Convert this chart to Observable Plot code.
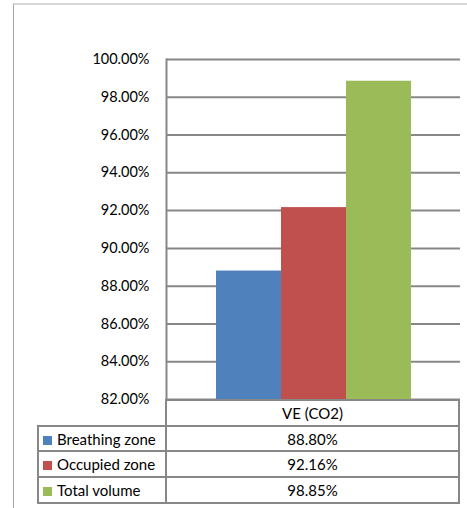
<!DOCTYPE html>
<html><head><meta charset="utf-8">
<script src="https://cdn.jsdelivr.net/npm/d3@7"></script>
<script src="https://cdn.jsdelivr.net/npm/@observablehq/plot@0.6"></script>
<style>
html,body{margin:0;padding:0;background:#fff;}
#wrap{position:relative;width:467px;height:508px;overflow:hidden;font-family:Lato,"Open Sans",sans-serif;color:#000;}
#frame{position:absolute;left:13px;top:3px;right:-5px;bottom:-5px;border-left:1px solid #a6a6a6;border-top:2px solid #d9d9d9;}
#chart{position:absolute;left:0;top:0;}
#tbl{position:absolute;left:37px;top:399px;border-collapse:collapse;table-layout:fixed;width:423px;font-size:15px;}
#tbl td{border:2px solid #878787;height:23.7px;padding:0;line-height:16px;white-space:nowrap;}
#tbl td.v{text-align:center;}
#tbl td.blank{border-top:none;border-left:none;}
.key{display:inline-block;width:9px;height:9px;margin:0 5px 0 4px;vertical-align:0px;}
</style>
</head><body>
<div id="wrap"><div id="frame"></div><div id="chart"></div><table id="tbl"></table></div>
<script>
const category = "VE (CO2)";
const series = ["Breathing zone", "Occupied zone", "Total volume"];
const values = [88.80, 92.16, 98.85];
const yTicks = [82, 84, 86, 88, 90, 92, 94, 96, 98, 100];
const palette = ["#4F81BD", "#C0504D", "#9BBB59"];

const data = series.map((s, i) => ({series: s, value: values[i], category}));
const fmt = d => d.toFixed(2) + "%";
const grid = "#878787";

const chart = Plot.plot({
  width: 467, height: 410,
  marginTop: 59, marginBottom: 11, marginLeft: 166, marginRight: 7,
  style: {background: "transparent", fontFamily: "Lato, 'Open Sans', sans-serif", fontSize: "14.5px", color: "#000"},
  x: {domain: series, paddingInner: 0, paddingOuter: 0.7615, align: 0.5, axis: null},
  y: {domain: [yTicks[0], yTicks[yTicks.length - 1]], label: null},
  color: {domain: series, range: palette},
  marks: [
    Plot.gridY(yTicks, {stroke: grid, strokeOpacity: 1, strokeWidth: 2}),
    Plot.frame({anchor: "left", stroke: grid, strokeWidth: 2}),
    Plot.barY(data, {x: "series", y: "value", fill: "series", clip: true}),
    Plot.axisY(yTicks, {tickSize: 0, tickPadding: 17, tickFormat: fmt, label: null, fill: "#000"})
  ]
});
document.getElementById("chart").appendChild(chart);

const tbl = document.getElementById("tbl");
const head = document.createElement("tr");
head.innerHTML = `<td class="blank" style="width:127px"></td><td class="v">${category}</td>`;
tbl.appendChild(head);
data.forEach((d, i) => {
  const tr = document.createElement("tr");
  tr.innerHTML = `<td><span class="key" style="background:${palette[i]}"></span>${d.series}</td><td class="v">${fmt(d.value)}</td>`;
  tbl.appendChild(tr);
});
</script>
</body></html>
